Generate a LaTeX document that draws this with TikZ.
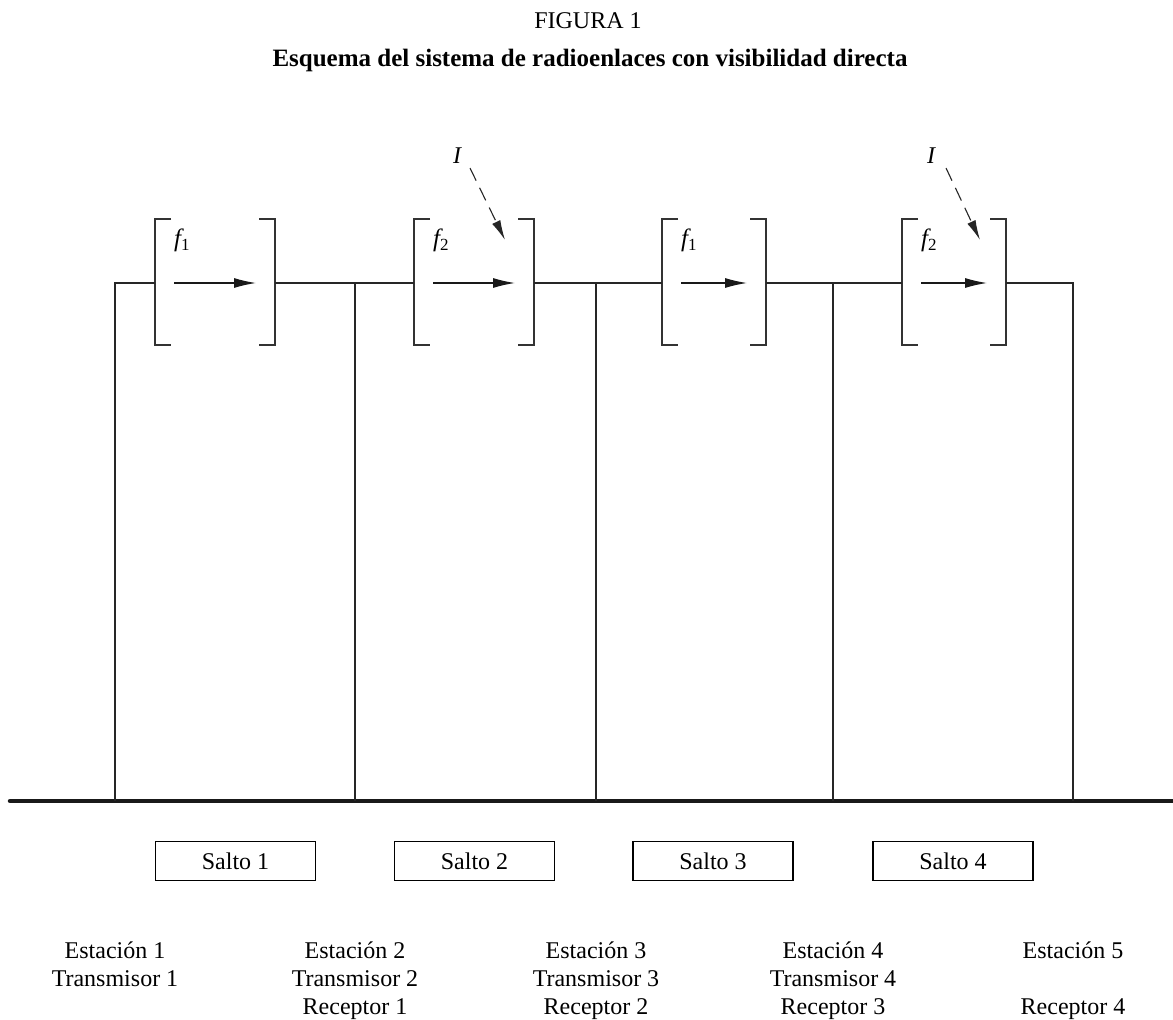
\documentclass[tikz,border=0pt]{standalone}
\usepackage{fontspec}
\setmainfont{Liberation Serif}
\usetikzlibrary{arrows.meta}
\begin{document}
\begin{tikzpicture}[x=1pt,y=-1pt,
  wire/.style={line width=1.3pt, draw=black!85},
  brk/.style={line width=1.6pt, draw=black!80},
  sig/.style={line width=1.3pt, draw=black!90, -{Latex[length=22pt,width=10pt]}},
  intf/.style={line width=1.1pt, draw=black!85, dash pattern=on 14pt off 8pt, -{Latex[length=20pt,width=9pt]}},
  lbl/.style={font=\fontsize{24}{28}\selectfont, inner sep=0pt, anchor=base},
  saltobox/.style={draw, line width=1.3pt, minimum width=160pt, minimum height=39pt, inner sep=0pt, font=\fontsize{24}{28}\selectfont},
  flbl/.style={inner sep=0pt, anchor=base west, font=\fontsize{25}{28}\selectfont\itshape},
  ]
\useasboundingbox (0,0) rectangle (1173,1020);

% titles
\node[lbl, font=\fontsize{24}{28}\selectfont] (fig) at (588,28) {FIGURA 1};
\node[lbl, font=\fontsize{25}{30}\selectfont\bfseries] (sub) at (590,66) {Esquema del sistema de radioenlaces con visibilidad directa};

% ground line
\coordinate (gl) at (10,801);
\coordinate (gr) at (1173,801);
\draw[line width=4.5pt, line cap=round, draw=black!90] (gl) -- (gr);

% stations
\foreach \i/\x in {1/115,2/355,3/596,4/833,5/1073}{
  \coordinate (s\i top) at (\x,283);
  \coordinate (s\i bot) at (\x,801);
}

% hop brackets
\foreach \i/\l/\r/\f in {1/155/275/1,2/414/534/2,3/662/766/1,4/902/1006/2}{
  \draw[brk] (\l+16,219) -- (\l,219) -- (\l,345) -- (\l+16,345);
  \draw[brk] (\r-16,219) -- (\r,219) -- (\r,345) -- (\r-16,345);
  \coordinate (g\i L) at (\l,283);
  \coordinate (g\i R) at (\r,283);
  \coordinate (a\i s) at (\l+19,283);
  \coordinate (a\i e) at (\r-19,283);
  \draw[sig] (a\i s) -- (a\i e);
  \node[flbl] (f\i) at (\l+19,246) {f\raisebox{-4pt}{\fontsize{17}{18}\selectfont\upshape\f}};
}

% wiring
\draw[wire] (s1bot) |- (g1L);
\draw[wire] (g1R) -- (g2L);
\draw[wire] (s2bot) -- (s2top);
\draw[wire] (g2R) -- (g3L);
\draw[wire] (s3bot) -- (s3top);
\draw[wire] (g3R) -- (g4L);
\draw[wire] (s4bot) -- (s4top);
\draw[wire] (g4R) -| (s5bot);

% interference
\node[lbl, font=\fontsize{24}{28}\selectfont\itshape] (I1) at (457,163) {I};
\node[lbl, font=\fontsize{24}{28}\selectfont\itshape] (I2) at (931,163) {I};
\coordinate (i1s) at (470,168); \coordinate (i1e) at (505,240);
\coordinate (i2s) at (946,168); \coordinate (i2e) at (980,240);
\draw[intf] (i1s) -- (i1e);
\draw[intf] (i2s) -- (i2e);

% hops
\node[saltobox] (h1) at (235.5,861) {Salto 1};
\node[saltobox] (h2) at (474.5,861) {Salto 2};
\node[saltobox] (h3) at (713,861) {Salto 3};
\node[saltobox] (h4) at (953,861) {Salto 4};

% station labels
\node[lbl] (e1) at (115,958) {Estación 1};
\node[lbl] (t1) at (115,986) {Transmisor 1};
\node[lbl] (e2) at (355,958) {Estación 2};
\node[lbl] (t2) at (355,986) {Transmisor 2};
\node[lbl] (r1) at (355,1014) {Receptor 1};
\node[lbl] (e3) at (596,958) {Estación 3};
\node[lbl] (t3) at (596,986) {Transmisor 3};
\node[lbl] (r2) at (596,1014) {Receptor 2};
\node[lbl] (e4) at (833,958) {Estación 4};
\node[lbl] (t4) at (833,986) {Transmisor 4};
\node[lbl] (r3) at (833,1014) {Receptor 3};
\node[lbl] (e5) at (1073,958) {Estación 5};
\node[lbl] (r4) at (1073,1014) {Receptor 4};
\end{tikzpicture}
\end{document}
